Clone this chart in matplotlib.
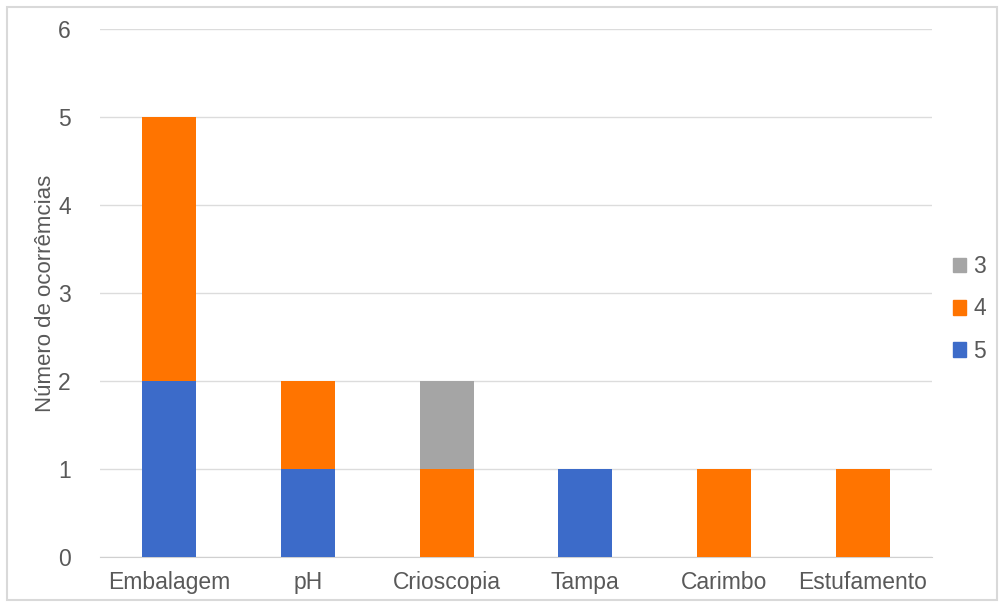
import matplotlib
matplotlib.use("Agg")
import matplotlib.pyplot as plt
import numpy as np
from matplotlib.patches import Rectangle, Patch

categorias = ["Embalagem", "pH", "Crioscopia", "Tampa", "Carimbo", "Estufamento"]
nota_5 = [2, 1, 0, 1, 0, 0]
nota_4 = [3, 1, 1, 0, 1, 1]
nota_3 = [0, 0, 1, 0, 0, 0]

azul = "#3c6bc9"
laranja = "#ff7400"
cinza = "#a5a5a5"
cor_texto = "#595959"

plt.rcParams["font.family"] = ["Liberation Sans", "DejaVu Sans"]

fig = plt.figure(figsize=(10.04, 6.07), dpi=100)
ax = fig.add_axes([0.0996, 0.0824, 0.8287, 0.8698])

x = np.arange(len(categorias))
largura = 0.39
base = np.zeros(len(categorias))
for valores, cor in [(nota_5, azul), (nota_4, laranja), (nota_3, cinza)]:
    ax.bar(x, valores, largura, bottom=base, color=cor, zorder=3)
    base = base + np.array(valores)

ax.set_xlim(-0.5, len(categorias) - 0.5)
ax.set_ylim(0, 6)
ax.set_yticks(range(7))
ax.set_xticks(x)
ax.set_xticklabels(categorias)
ax.grid(axis="y", color="#dcdcdc", linewidth=1, zorder=0)
for lado in ["top", "right", "left"]:
    ax.spines[lado].set_visible(False)
ax.spines["bottom"].set_color("#d0d0d0")
ax.tick_params(axis="both", length=0, labelsize=16.5, colors=cor_texto)
ax.tick_params(axis="y", pad=21)
ax.tick_params(axis="x", pad=10)
ax.set_ylabel("Número de ocorrêmcias", fontsize=16, color=cor_texto)
ax.yaxis.set_label_coords(-0.053, 0.5)

legenda = [Patch(color=cinza, label="3"), Patch(color=laranja, label="4"), Patch(color=azul, label="5")]
ax.legend(handles=legenda, loc="center left", bbox_to_anchor=(1.0, 0.47), frameon=False,
          prop={"family": "Liberation Sans", "size": 16.5}, labelcolor=cor_texto,
          handlelength=0.6, handleheight=0.6, handletextpad=0.3, labelspacing=0.85)

# moldura cinza em volta da figura
fig.patches.append(Rectangle((7 / 1004, 7 / 607), 1 - 14 / 1004, 1 - 14 / 607,
                             transform=fig.transFigure, fill=False,
                             edgecolor="#d9d9d9", linewidth=1.5))

fig.savefig("out.png", dpi=100)
